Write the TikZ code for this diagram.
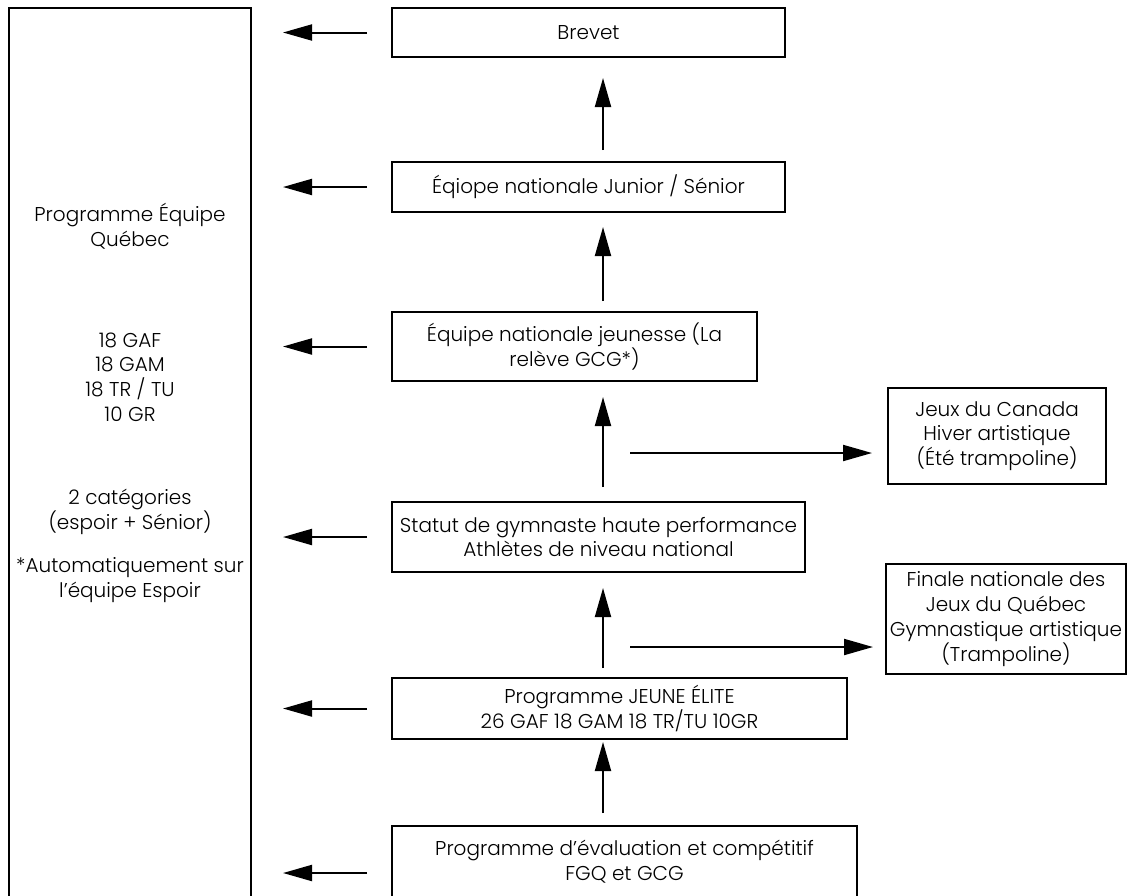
\documentclass[tikz,border=0pt]{standalone}
\usepackage{fontspec}
\setmainfont{Poppins Light}
\usetikzlibrary{arrows.meta}
\begin{document}
\begin{tikzpicture}[x=1pt,y=-1pt,
  every node/.style={font=\fontsize{20}{24.8}\selectfont, inner sep=0pt, outer sep=0pt},
  stagebox/.style={draw, line width=2pt, align=center, anchor=north west},
  flow/.style={line width=2pt, -{Triangle[length=29pt,width=16pt]}},
]
\useasboundingbox (0,0) rectangle (1140,895);
\clip (0,0) rectangle (1140,895);

% left column: Programme Equipe Quebec
\node[stagebox, minimum width=242pt, minimum height=910pt] (equipe) at (9,8) {};
\node[align=center] (equipetxt) at (130,403) {Programme Équipe\\Québec\\[76pt]18 GAF\\18 GAM\\18 TR / TU\\10 GR\\[58pt]2 catégories\\(espoir + Sénior)\\[19pt]*Automatiquement sur\\l’équipe Espoir};

% main ladder
\node[stagebox, minimum width=393pt, minimum height=49pt] (brevet) at (392,8) {Brevet};
\node[stagebox, minimum width=393pt, minimum height=50pt] (junior) at (392,162) {Éqiope nationale Junior / Sénior};
\node[stagebox, minimum width=365pt, minimum height=69pt] (jeunesse) at (392,312) {Équipe nationale jeunesse (La\\relève GCG*)};
\node[stagebox, minimum width=413pt, minimum height=70pt] (statut) at (392,502) {Statut de gymnaste haute performance\\Athlètes de niveau national};
\node[stagebox, minimum width=455pt, minimum height=61pt] (elite) at (392,678) {Programme JEUNE ÉLITE\\26 GAF 18 GAM 18 TR/TU 10GR};
\node[stagebox, minimum width=465pt, minimum height=72pt] (evaluation) at (392,826) {Programme d’évaluation et compétitif\\FGQ et GCG};

% side events
\node[stagebox, minimum width=218pt, minimum height=96pt] (canada) at (888,388) {Jeux du Canada\\Hiver artistique\\(Été trampoline)};
\node[stagebox, minimum width=240pt, minimum height=110pt] (finale) at (886,564) {Finale nationale des\\Jeux du Québec\\Gymnastique artistique\\(Trampoline)};

% upward progression
\coordinate (spine) at (603,0);
\draw[flow, shorten <=12pt, shorten >=21pt] (junior.north -| spine) -- (brevet.south -| spine);
\draw[flow, shorten <=11pt, shorten >=15pt] (jeunesse.north -| spine) -- (junior.south -| spine);
\draw[flow, shorten <=15pt, shorten >=16pt] (statut.north -| spine) -- (jeunesse.south -| spine);
\draw[flow, shorten <=10pt, shorten >=16pt] (elite.north -| spine) -- (statut.south -| spine);
\draw[flow, shorten <=13pt, shorten >=3pt] (evaluation.north -| spine) -- (elite.south -| spine);

% side branches
\coordinate (toCanada) at (630,453);
\coordinate (toFinale) at (630,647);
\draw[flow, shorten >=16pt] (toCanada) -- (toCanada -| canada.west);
\draw[flow, shorten >=13pt] (toFinale) -- (toFinale -| finale.west);

% links to the Equipe Quebec programme
\foreach \s in {brevet, junior, jeunesse, statut, elite}
  \draw[flow, shorten <=25pt, shorten >=32pt] (\s.west) -- (\s.west -| equipe.east);
\draw[flow, shorten <=25pt, shorten >=32pt] ([yshift=-11pt]evaluation.west) -- ([yshift=-11pt]evaluation.west -| equipe.east);
\end{tikzpicture}
\end{document}
